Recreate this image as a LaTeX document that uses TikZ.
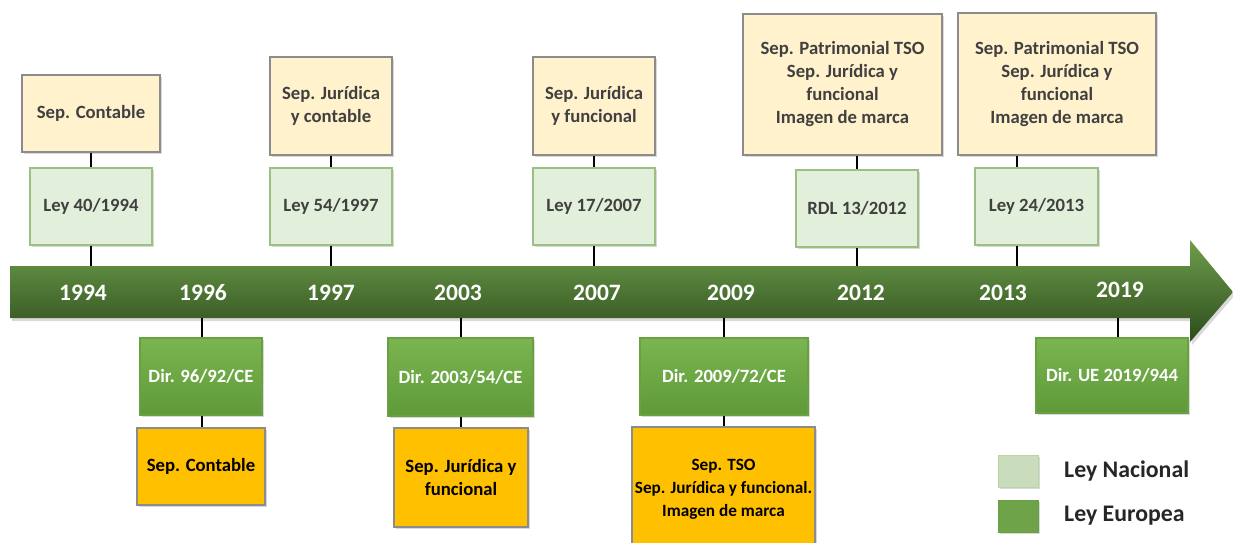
\documentclass[tikz,border=0pt]{standalone}
\usepackage{fontspec}
\setmainfont{Carlito}
\usepackage{xcolor}
\usetikzlibrary{shadows, calc}

\definecolor{sepfill}{HTML}{FFF2CC}
\definecolor{sepdraw}{HTML}{8C8C8C}
\definecolor{boxtext}{HTML}{404040}
\definecolor{natfill}{HTML}{E2EFDA}
\definecolor{natdraw}{HTML}{9CC083}
\definecolor{eutop}{HTML}{7AB551}
\definecolor{eubot}{HTML}{5E9A38}
\definecolor{eudraw}{HTML}{6A9F44}
\definecolor{orgfill}{HTML}{FFC000}
\definecolor{bartopc}{HTML}{6E9E4C}
\definecolor{barmidc}{HTML}{416B2A}
\definecolor{barbotc}{HTML}{2C4B1B}

\begin{document}
\begin{tikzpicture}[
    x=1pt, y=-1pt,
    every node/.style={font=\bfseries\fontsize{18.7}{23}\selectfont, align=center, inner sep=2pt},
    shadow/.style={drop shadow={shadow xshift=2pt, shadow yshift=-2pt, opacity=0.3}},
    sepbox/.style 2 args={
        draw=sepdraw, fill=sepfill, text=boxtext, line width=1.2pt,
        minimum width=#1, minimum height=#2, shadow
    },
    natbox/.style 2 args={
        draw=natdraw, fill=natfill, text=boxtext, line width=1.2pt,
        minimum width=#1, minimum height=#2, shadow
    },
    eubox/.style 2 args={
        draw=eudraw, top color=eutop, bottom color=eubot, text=white, line width=1.2pt,
        minimum width=#1, minimum height=#2, shadow
    },
    orgbox/.style 2 args={
        draw=sepdraw, fill=orgfill, text=black, line width=1.2pt,
        minimum width=#1, minimum height=#2, shadow
    },
    year/.style={text=white, font=\bfseries\fontsize{23.5}{25}\selectfont},
    legtext/.style={text=black!85, anchor=west, font=\bfseries\fontsize{23.8}{25}\selectfont},
    tick/.style={line width=2.8pt, draw=black}
]
\useasboundingbox (0,0) rectangle (1233,542);

% Time axis
\shade[top color=bartopc, middle color=barmidc, bottom color=barbotc, drop shadow={shadow xshift=2pt, shadow yshift=-3pt, opacity=0.3}]
    (10,266) -- (1190,266) -- (1190,240) -- (1233,292) -- (1190,342) -- (1190,318) -- (10,318) -- cycle;
\coordinate (bartop) at (0,266);
\coordinate (barbot) at (0,318);

% Year positions
\coordinate (t94) at (91,0);
\coordinate (t96) at (202,0);
\coordinate (t97) at (331,0);
\coordinate (t03) at (461,0);
\coordinate (t07) at (594,0);
\coordinate (t09) at (724,0);
\coordinate (t12) at (857,0);
\coordinate (t13) at (1017,0);
\coordinate (t19) at (1118,0);

\node[year] (y1994) at (83,293) {1994};
\node[year] (y1996) at (203,293) {1996};
\node[year] (y1997) at (331,293) {1997};
\node[year] (y2003) at (458,293) {2003};
\node[year] (y2007) at (597,293) {2007};
\node[year] (y2009) at (731,293) {2009};
\node[year] (y2012) at (861,293) {2012};
\node[year] (y2013) at (1003,293) {2013};
\node[year] (y2019) at (1120,290) {2019};

% National laws (above)
\node[sepbox={138pt}{77pt}] (sep94) at (91,113.5) {Sep. Contable};
\node[natbox={122pt}{77pt}] (ley94) at (91,206.5) {Ley 40/1994};

\node[sepbox={122pt}{98pt}] (sep97) at (331,106) {Sep. Jurídica\\y contable};
\node[natbox={122pt}{77pt}] (ley97) at (331,206.5) {Ley 54/1997};

\node[sepbox={122pt}{98pt}] (sep07) at (594,106) {Sep. Jurídica\\y funcional};
\node[natbox={122pt}{77pt}] (ley07) at (594,206.5) {Ley 17/2007};

\node[sepbox={199pt}{141pt}] (sep12) at (842.5,84.5) {Sep. Patrimonial TSO\\Sep. Jurídica y\\funcional\\Imagen de marca};
\node[natbox={122pt}{77pt}] (rdl12) at (857,208.5) {RDL 13/2012};

\node[sepbox={198pt}{142pt}] (sep13) at (1057,84) {Sep. Patrimonial TSO\\Sep. Jurídica y\\funcional\\Imagen de marca};
\node[natbox={123pt}{77pt}] (ley13) at (1036.5,206.5) {Ley 24/2013};

% European directives (below)
\node[eubox={122pt}{77pt}] (dir96) at (201,376.5) {Dir. 96/92/CE};
\node[orgbox={128pt}{77pt}] (org96) at (201,466.5) {Sep. Contable};

\node[eubox={145pt}{78pt}] (dir03) at (460.5,377) {Dir. 2003/54/CE};
\node[orgbox={134pt}{99pt}] (org03) at (461,477.5) {Sep. Jurídica y\\funcional};

\node[eubox={168pt}{77pt}] (dir09) at (724,376.5) {Dir. 2009/72/CE};
\node[orgbox={183pt}{124pt}, inner xsep=0pt, font=\bfseries\fontsize{17.2}{23}\selectfont] (org09) at (723.5,489) {Sep. TSO\\Sep. Jurídica y funcional.\\Imagen de marca};

\node[eubox={152pt}{75pt}] (dir19) at (1112,375.5) {Dir. UE 2019/944};

% Legend
\node[draw=natdraw!70, fill=natdraw!55!white, minimum width=40pt, minimum height=32pt, shadow] (legnat) at (1018,471) {};
\node[legtext] (legnattxt) at (1062,471) {Ley Nacional};
\node[draw=eudraw, fill=eutop!90!black, minimum width=40pt, minimum height=32pt, shadow] (legeu) at (1018,516) {};
\node[legtext] (legeutxt) at (1062,516) {Ley Europea};

% Connectors above the axis
\draw[tick] (sep94.south -| t94) -- (t94 |- ley94.north);
\draw[tick] (ley94.south -| t94) -- (t94 |- bartop);
\draw[tick] (sep97.south -| t97) -- (t97 |- ley97.north);
\draw[tick] (ley97.south -| t97) -- (t97 |- bartop);
\draw[tick] (sep07.south -| t07) -- (t07 |- ley07.north);
\draw[tick] (ley07.south -| t07) -- (t07 |- bartop);
\draw[tick] (sep12.south -| t12) -- (t12 |- rdl12.north);
\draw[tick] (rdl12.south -| t12) -- (t12 |- bartop);
\draw[tick] (sep13.south -| t13) -- (t13 |- ley13.north);
\draw[tick] (ley13.south -| t13) -- (t13 |- bartop);

% Connectors below the axis
\draw[tick] (t96 |- barbot) -- (t96 |- dir96.north);
\draw[tick] (dir96.south -| t96) -- (t96 |- org96.north);
\draw[tick] (t03 |- barbot) -- (t03 |- dir03.north);
\draw[tick] (dir03.south -| t03) -- (t03 |- org03.north);
\draw[tick] (t09 |- barbot) -- (t09 |- dir09.north);
\draw[tick] (dir09.south -| t09) -- (t09 |- org09.north);
\draw[tick] (t19 |- barbot) -- (t19 |- dir19.north);

\end{tikzpicture}
\end{document}
